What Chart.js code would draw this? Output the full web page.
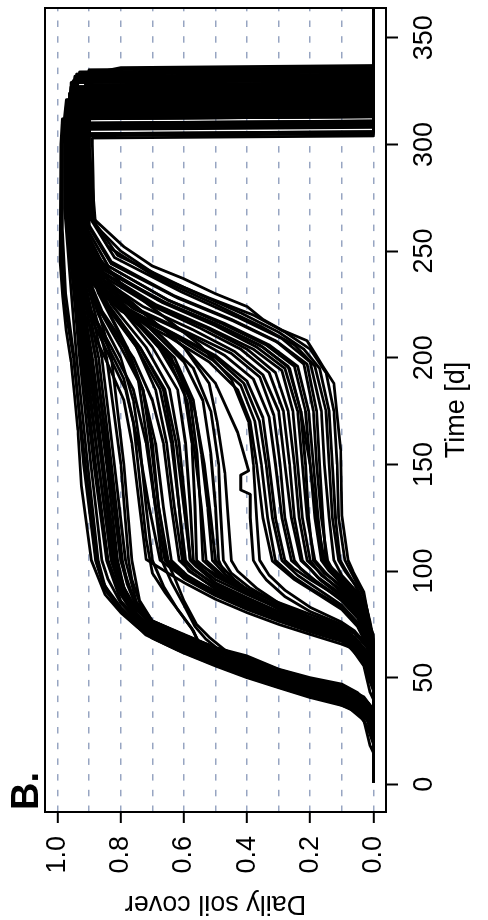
<!DOCTYPE html>
<html>
<head>
<meta charset="utf-8">
<script src="https://cdn.jsdelivr.net/npm/chart.js@4.4.0/dist/chart.umd.min.js"></script>
<style>
  html, body { margin: 0; padding: 0; background: #fff; }
  body { width: 488px; height: 920px; overflow: hidden; position: relative; }
  /* the figure is a landscape plot turned a quarter turn to the left */
  #turn { position: absolute; left: 0; top: 0; width: 920px; height: 488px;
          transform-origin: 0 0; transform: translate(0px, 920px) rotate(-90deg); }
</style>
</head>
<body>
<div id="turn"><canvas id="coverChart" width="920" height="488"></canvas></div>
<script>
// axis ticks
const timeTicks = [0, 50, 100, 150, 200, 250, 300, 350];
const coverTicks = [0, 0.1, 0.2, 0.3, 0.4, 0.5, 0.6, 0.7, 0.8, 0.9, 1.0];
const panelLabel = 'B.';

// each curve: [day, soil cover] points
// early emergence, high cover all season
const earlyHigh = [
  [[1,0],[15,0],[18,0.01],[30,0.03],[35,0.07],[37,0.1],[40.7,0.2],[45.3,0.3],[50,0.4],[55.5,0.5],[61.5,0.6],[68.5,0.7],[74,0.75],[80.5,0.8],[89,0.85],[105,0.893],[140,0.925],[166,0.936],[182,0.946],[198,0.957],[213,0.973],[229,0.984],[245,0.992],[300,0.99],[312,0.985],[313,0],[365,0]],
  [[1,0],[20,0],[26,0.015],[34,0.05],[37.5,0.1],[41.2,0.2],[45.8,0.3],[50.5,0.4],[56,0.5],[62,0.6],[69,0.7],[75,0.75],[82,0.8],[91,0.85],[105,0.88],[150,0.918],[200,0.948],[230,0.975],[260,0.985],[300,0.985],[318,0.972],[319,0],[365,0]],
  [[1,0],[22,0],[30,0.02],[35,0.05],[38,0.1],[41.8,0.2],[46.5,0.3],[51,0.4],[57,0.5],[63,0.6],[70,0.7],[76,0.75],[83,0.8],[93,0.85],[105,0.872],[150,0.905],[200,0.94],[240,0.962],[270,0.978],[300,0.978],[329,0.955],[330,0],[365,0]],
  [[1,0],[24,0],[31,0.02],[36,0.06],[38.5,0.1],[42.2,0.2],[47,0.3],[51.5,0.4],[57,0.5],[63.5,0.6],[70.5,0.7],[77,0.75],[85,0.8],[96,0.84],[105,0.86],[150,0.895],[200,0.93],[240,0.955],[270,0.975],[300,0.975],[312,0.97],[313,0],[365,0]],
  [[1,0],[25,0],[32,0.025],[36.5,0.06],[39,0.1],[42.6,0.2],[47.3,0.3],[52,0.4],[57.5,0.5],[64,0.6],[71,0.7],[78,0.75],[86,0.8],[105,0.845],[150,0.885],[200,0.925],[240,0.95],[270,0.972],[300,0.972],[324,0.962],[325,0],[365,0]],
  [[1,0],[26,0],[33,0.03],[37,0.06],[39.5,0.1],[43,0.2],[47.8,0.3],[52.5,0.4],[58,0.5],[64.5,0.6],[71.5,0.7],[79,0.75],[88,0.79],[105,0.83],[150,0.87],[200,0.91],[240,0.945],[270,0.968],[300,0.97],[321,0.965],[322,0],[365,0]],
  [[1,0],[27,0],[33.5,0.03],[37.5,0.06],[40,0.1],[43.5,0.2],[48,0.3],[53,0.4],[58.5,0.5],[65,0.6],[72,0.7],[80,0.75],[90,0.785],[105,0.815],[150,0.855],[200,0.9],[240,0.94],[270,0.962],[300,0.965],[334,0.93],[335,0],[365,0]],
  [[1,0],[27,0],[34,0.03],[38,0.06],[40.5,0.1],[44,0.2],[48.5,0.3],[53.5,0.4],[59,0.5],[65.5,0.6],[72.5,0.7],[80,0.75],[90,0.79],[105,0.82],[150,0.86],[200,0.905],[240,0.94],[270,0.96],[300,0.962],[315,0.96],[316,0],[365,0]],
  [[1,0],[28,0],[35,0.03],[39,0.07],[41,0.1],[44.5,0.2],[49,0.3],[54,0.4],[59.5,0.5],[66,0.6],[73,0.7],[80,0.76],[89,0.8],[105,0.84],[150,0.88],[200,0.92],[240,0.955],[270,0.975],[300,0.977],[309,0.975],[310,0],[365,0]],
  [[1,0],[29,0],[35.5,0.03],[39.5,0.07],[41.5,0.1],[45,0.2],[49.5,0.3],[54.5,0.4],[60,0.5],[66.5,0.6],[73.5,0.7],[81,0.76],[91,0.8],[105,0.83],[150,0.87],[200,0.915],[240,0.95],[270,0.972],[300,0.974],[327,0.958],[328,0],[365,0]],
  [[1,0],[29,0],[36,0.03],[40,0.07],[42,0.1],[45.5,0.2],[50,0.3],[55,0.4],[60.5,0.5],[67,0.6],[74,0.7],[82,0.75],[92,0.79],[105,0.81],[150,0.845],[200,0.89],[240,0.935],[270,0.96],[300,0.962],[319,0.96],[320,0],[365,0]],
  [[1,0],[30,0],[37,0.03],[40.5,0.07],[42.5,0.1],[46,0.2],[50.5,0.3],[55.5,0.4],[61,0.5],[67.5,0.6],[74.5,0.7],[83,0.75],[94,0.78],[105,0.8],[150,0.835],[200,0.88],[240,0.93],[270,0.958],[300,0.96],[331,0.945],[332,0],[365,0]],
  [[1,0],[30,0],[38,0.03],[41,0.07],[43,0.1],[46.5,0.2],[51,0.3],[56.5,0.4],[62,0.5],[68,0.6],[75,0.7],[83,0.76],[93,0.8],[105,0.825],[150,0.86],[200,0.9],[240,0.945],[270,0.97],[300,0.97],[314,0.968],[315,0],[365,0]],
  [[1,0],[32,0],[39,0.03],[42,0.07],[44,0.1],[47.5,0.2],[52,0.3],[57.5,0.4],[62.5,0.5],[68.5,0.6],[75.5,0.7],[84,0.75],[95,0.78],[105,0.795],[150,0.83],[200,0.87],[240,0.925],[270,0.955],[300,0.958],[323,0.955],[324,0],[365,0]],
  [[1,0],[32,0],[39,0.03],[42.5,0.07],[44.5,0.1],[48,0.2],[52.5,0.3],[58,0.4],[63,0.5],[69,0.6],[76,0.7],[85,0.75],[105,0.785],[150,0.82],[200,0.86],[240,0.92],[270,0.952],[300,0.96],[329,0.957],[333,0.9],[336,0.8],[337,0],[365,0]],
  [[1,0],[33,0],[40,0.03],[43,0.07],[45,0.1],[48.5,0.2],[53,0.3],[58.5,0.4],[63.5,0.5],[69.5,0.6],[76,0.7],[84,0.76],[95,0.8],[105,0.82],[150,0.855],[200,0.895],[240,0.94],[270,0.965],[300,0.967],[304,0.966],[305,0],[365,0]],
  [[1,0],[34,0],[40,0.03],[43.5,0.07],[45.5,0.1],[49,0.2],[53.5,0.3],[59,0.4],[64,0.5],[70,0.6],[76.5,0.7],[85,0.74],[96,0.765],[105,0.775],[150,0.8],[200,0.845],[240,0.915],[270,0.95],[300,0.955],[326,0.95],[327,0],[365,0]],
  [[1,0],[35,0],[41,0.03],[44,0.07],[46,0.1],[49.5,0.2],[53.8,0.3],[59.5,0.4],[64,0.5],[70,0.6],[76.6,0.7],[86,0.74],[105,0.765],[150,0.79],[200,0.83],[240,0.905],[270,0.946],[300,0.952],[317,0.95],[318,0],[365,0]],
  [[1,0],[35,0],[38,0.015],[43,0.05],[47,0.1],[50,0.2],[54,0.3],[60.2,0.4],[64.1,0.5],[70.3,0.6],[76.6,0.7],[87,0.76],[105,0.8],[150,0.84],[200,0.88],[240,0.93],[270,0.96],[300,0.963],[308,0.962],[309,0],[365,0]],
  [[1,0],[19,0],[24,0.012],[32,0.035],[36,0.08],[38.2,0.12],[42,0.22],[46.5,0.32],[51.5,0.42],[57,0.52],[63,0.62],[70,0.72],[77,0.77],[85,0.82],[96,0.86],[105,0.878],[150,0.912],[200,0.95],[225,0.978],[250,0.988],[300,0.987],[321,0.972],[322,0],[365,0]]
];

// early emergence, slower growth after the first rise
const slowEarly = [
  [[1,0],[24,0],[32,0.02],[37,0.07],[39.5,0.1],[43,0.2],[48,0.3],[53,0.4],[59,0.5],[65,0.55],[72,0.57],[80,0.61],[90,0.66],[99,0.7],[115,0.72],[143,0.74],[170,0.76],[190,0.79],[208,0.85],[226,0.91],[250,0.945],[275,0.965],[300,0.968],[310,0.965],[311,0],[365,0]],
  [[1,0],[26,0],[34,0.025],[38,0.07],[40.5,0.1],[44,0.2],[49,0.3],[54,0.4],[60,0.5],[66,0.55],[73,0.575],[82,0.62],[93,0.665],[105,0.7],[130,0.72],[160,0.74],[180,0.76],[200,0.8],[220,0.87],[245,0.93],[275,0.96],[300,0.962],[325,0.955],[326,0],[365,0]],
  [[1,0],[28,0],[35,0.03],[39,0.07],[42,0.1],[45.5,0.2],[50.5,0.3],[56,0.4],[62,0.48],[68,0.53],[74,0.565],[84,0.6],[95,0.64],[105,0.67],[130,0.69],[160,0.715],[190,0.745],[210,0.8],[230,0.87],[255,0.93],[280,0.955],[300,0.958],[333,0.94],[334,0],[365,0]],
  [[1,0],[30,0],[37,0.03],[40.5,0.07],[43,0.1],[47,0.2],[52,0.3],[57.5,0.4],[63,0.47],[69,0.52],[75,0.56],[86,0.6],[97,0.63],[105,0.655],[130,0.68],[160,0.7],[185,0.73],[205,0.78],[225,0.85],[250,0.92],[280,0.952],[300,0.955],[318,0.952],[319,0],[365,0]]
];

// second emergence wave, mid cover through summer
const secondWave = [
  [[1,0],[40,0],[43,0.01],[55.5,0.03],[64,0.07],[65.7,0.1],[70.3,0.2],[75,0.3],[80.5,0.4],[86.8,0.5],[94.6,0.6],[99,0.65],[105.5,0.72],[130,0.74],[160,0.765],[180,0.79],[200,0.85],[220,0.915],[245,0.952],[275,0.975],[300,0.976],[305,0.975],[306,0],[365,0]],
  [[1,0],[44,0],[50,0.015],[58,0.035],[65,0.08],[67,0.1],[71.5,0.2],[76.5,0.3],[82,0.4],[88.5,0.5],[96.5,0.6],[105,0.66],[130,0.69],[160,0.72],[185,0.76],[205,0.83],[225,0.905],[250,0.948],[280,0.97],[300,0.97],[320,0.965],[321,0],[365,0]],
  [[1,0],[46,0],[53,0.02],[60,0.04],[66,0.08],[68,0.1],[72.5,0.2],[77.5,0.3],[83.5,0.4],[90,0.5],[98,0.59],[105,0.64],[130,0.665],[160,0.69],[185,0.73],[205,0.8],[228,0.89],[255,0.94],[285,0.965],[300,0.966],[315,0.965],[316,0],[365,0]],
  [[1,0],[48,0],[55,0.02],[62,0.045],[67,0.085],[69,0.1],[73.5,0.2],[78.5,0.3],[84.5,0.4],[91.5,0.5],[100,0.58],[105,0.615],[130,0.64],[160,0.665],[180,0.7],[200,0.76],[222,0.86],[248,0.932],[280,0.96],[300,0.962],[330,0.95],[331,0],[365,0]],
  [[1,0],[50,0],[57,0.02],[63,0.05],[68,0.085],[70,0.1],[74.5,0.2],[79.5,0.3],[86,0.4],[93,0.5],[101,0.57],[105,0.595],[130,0.615],[160,0.64],[185,0.675],[205,0.75],[225,0.85],[250,0.925],[280,0.958],[300,0.96],[313,0.958],[314,0],[365,0]],
  [[1,0],[51,0],[58,0.02],[64,0.05],[69,0.085],[71,0.1],[75.5,0.2],[81,0.3],[87.5,0.4],[94.5,0.5],[102,0.56],[105,0.58],[130,0.595],[160,0.615],[185,0.645],[205,0.72],[225,0.83],[250,0.915],[280,0.955],[300,0.957],[327,0.95],[328,0],[365,0]],
  [[1,0],[52,0],[59,0.02],[65,0.05],[70,0.085],[72,0.1],[77,0.2],[82.5,0.3],[89,0.4],[96,0.5],[103,0.56],[105,0.57],[130,0.58],[160,0.595],[185,0.62],[205,0.7],[225,0.81],[250,0.905],[280,0.95],[300,0.953],[309,0.952],[310,0],[365,0]],
  [[1,0],[53,0],[60,0.02],[66,0.05],[71,0.085],[73,0.1],[78,0.2],[83.5,0.3],[90,0.4],[97.5,0.5],[105,0.56],[130,0.565],[160,0.575],[185,0.6],[205,0.68],[225,0.79],[250,0.9],[280,0.948],[300,0.95],[322,0.945],[323,0],[365,0]],
  [[1,0],[60,0],[66,0.02],[70,0.05],[72.5,0.085],[74.3,0.1],[79.7,0.2],[85.2,0.3],[91.4,0.4],[98.5,0.5],[105.5,0.58],[130,0.6],[160,0.625],[185,0.66],[205,0.74],[225,0.84],[250,0.92],[280,0.955],[300,0.957],[335,0.9],[336,0],[365,0]],
  [[1,0],[47,0],[54,0.02],[61,0.04],[66.5,0.085],[68.5,0.1],[73,0.2],[78,0.3],[84,0.4],[90.5,0.5],[98,0.6],[105,0.65],[130,0.68],[160,0.705],[185,0.73],[205,0.79],[225,0.875],[250,0.94],[280,0.963],[300,0.965],[332,0.945],[333,0],[365,0]],
  [[1,0],[49,0],[56,0.02],[62.5,0.045],[67.5,0.085],[69.5,0.1],[74,0.2],[79,0.3],[85,0.4],[92,0.5],[100,0.585],[105,0.605],[130,0.63],[160,0.655],[185,0.69],[205,0.75],[225,0.845],[250,0.922],[280,0.956],[300,0.958],[308,0.957],[309,0],[365,0]],
  [[1,0],[45,0],[51,0.015],[59,0.035],[65.5,0.08],[67.5,0.1],[72,0.2],[77,0.3],[83,0.4],[89.5,0.5],[97,0.6],[105,0.675],[130,0.71],[160,0.745],[185,0.785],[205,0.85],[225,0.915],[250,0.95],[280,0.97],[300,0.972],[324,0.962],[325,0],[365,0]],
  [[1,0],[50,0],[57,0.02],[63.5,0.05],[68.5,0.085],[70.5,0.1],[75,0.2],[80,0.3],[86.5,0.4],[93.5,0.5],[101,0.575],[105,0.6],[130,0.615],[160,0.635],[185,0.665],[205,0.74],[225,0.845],[250,0.922],[280,0.956],[300,0.958],[326,0.952],[327,0],[365,0]]
];

// scattered lines around the middle of the cover range
const looseMid = [
  [[1,0],[52,0],[60,0.02],[67,0.06],[71,0.1],[76,0.2],[82,0.3],[89,0.38],[96,0.44],[105,0.5],[125,0.515],[150,0.535],[175,0.565],[195,0.62],[212,0.72],[228,0.84],[250,0.92],[280,0.952],[300,0.955],[319,0.952],[320,0],[365,0]],
  [[1,0],[55,0],[62,0.02],[69,0.06],[73,0.1],[78,0.2],[85,0.3],[92,0.37],[96,0.4],[100,0.43],[105,0.45],[125,0.46],[146,0.47],[170,0.495],[188,0.52],[205,0.6],[220,0.72],[236,0.85],[255,0.92],[285,0.952],[300,0.954],[316,0.952],[317,0],[365,0]],
  [[1,0],[54,0],[61,0.02],[68,0.06],[72.5,0.1],[77,0.2],[83,0.3],[90,0.4],[97,0.47],[105,0.53],[130,0.545],[155,0.565],[180,0.59],[200,0.65],[218,0.76],[235,0.87],[258,0.93],[285,0.958],[300,0.96],[329,0.95],[330,0],[365,0]],
  [[1,0],[56,0],[64,0.02],[71,0.06],[75,0.1],[81,0.2],[88,0.28],[96,0.34],[100,0.36],[105,0.38],[125,0.39],[136,0.39],[138,0.42],[145,0.42],[147,0.395],[165,0.43],[188,0.5],[205,0.6],[220,0.72],[236,0.84],[255,0.915],[285,0.95],[300,0.952],[326,0.945],[327,0],[365,0]],
  [[1,0],[57,0],[65,0.02],[72,0.06],[76,0.1],[83,0.2],[91,0.28],[98,0.33],[105,0.36],[125,0.37],[150,0.38],[170,0.395],[190,0.45],[206,0.55],[220,0.67],[235,0.8],[252,0.9],[285,0.948],[300,0.95],[307,0.948],[308,0],[365,0]],
  [[1,0],[53,0],[60,0.02],[67,0.055],[71.5,0.1],[76.5,0.2],[82.5,0.3],[89.5,0.39],[97,0.46],[105,0.51],[130,0.525],[155,0.545],[180,0.57],[200,0.63],[216,0.74],[232,0.86],[255,0.925],[285,0.955],[300,0.957],[314,0.955],[315,0],[365,0]],
  [[1,0],[55,0],[62,0.02],[69,0.06],[73.5,0.1],[78.5,0.2],[84.5,0.3],[91.5,0.4],[98.5,0.47],[105,0.49],[130,0.5],[155,0.515],[180,0.54],[198,0.6],[214,0.71],[230,0.84],[252,0.92],[285,0.952],[300,0.955],[331,0.94],[332,0],[365,0]],
  [[1,0],[55,0],[62,0.02],[69,0.06],[73,0.1],[78,0.2],[84.5,0.3],[92,0.39],[99,0.45],[105,0.475],[130,0.485],[150,0.49],[175,0.515],[195,0.57],[210,0.67],[226,0.8],[245,0.9],[280,0.948],[300,0.952],[316,0.95],[317,0],[365,0]],
  [[1,0],[54,0],[61,0.02],[68,0.06],[72,0.1],[77,0.2],[83,0.3],[90,0.4],[97,0.48],[105,0.54],[130,0.548],[155,0.558],[180,0.58],[200,0.64],[217,0.75],[233,0.86],[255,0.925],[285,0.955],[300,0.958],[321,0.955],[322,0],[365,0]]
];

// late emergence, low cover until autumn
const lateLow = [
  [[1,0],[50,0],[55.5,0.005],[65,0.02],[74,0.05],[82,0.1],[91.4,0.2],[96,0.25],[104.7,0.32],[125,0.35],[150,0.37],[170,0.39],[185,0.43],[198,0.52],[210,0.65],[222,0.8],[236,0.9],[260,0.94],[300,0.945],[312,0.942],[313,0],[365,0]],
  [[1,0],[53,0],[58,0.006],[67,0.02],[76,0.05],[84,0.1],[93,0.19],[98,0.24],[105,0.29],[125,0.32],[150,0.34],[170,0.36],[188,0.41],[200,0.5],[211,0.63],[222,0.78],[236,0.89],[255,0.93],[300,0.94],[323,0.935],[324,0],[365,0]],
  [[1,0],[55,0],[60,0.006],[69,0.02],[78,0.05],[86,0.1],[95,0.18],[100,0.22],[105,0.26],[125,0.29],[150,0.31],[172,0.33],[190,0.38],[201,0.47],[212,0.6],[223,0.76],[237,0.88],[255,0.925],[300,0.935],[317,0.932],[318,0],[365,0]],
  [[1,0],[57,0],[62,0.007],[71,0.02],[80,0.05],[88,0.1],[96,0.17],[101,0.2],[105,0.23],[125,0.26],[150,0.28],[175,0.3],[192,0.35],[203,0.44],[213,0.57],[224,0.73],[238,0.87],[256,0.92],[300,0.93],[334,0.9],[335,0],[365,0]],
  [[1,0],[58,0],[64,0.007],[73,0.02],[82,0.05],[90,0.1],[98,0.16],[105,0.21],[125,0.235],[150,0.25],[175,0.27],[193,0.31],[204,0.4],[214,0.53],[225,0.7],[240,0.86],[258,0.915],[300,0.925],[320,0.92],[321,0],[365,0]],
  [[1,0],[60,0],[66,0.007],[75,0.02],[84,0.05],[92,0.1],[99,0.15],[105,0.185],[125,0.21],[150,0.225],[175,0.24],[195,0.28],[205,0.37],[215,0.5],[226,0.67],[241,0.85],[258,0.91],[300,0.92],[328,0.91],[329,0],[365,0]],
  [[1,0],[61,0],[68,0.008],[77,0.02],[86,0.05],[94,0.1],[100,0.14],[105,0.165],[125,0.185],[150,0.2],[175,0.215],[196,0.25],[206,0.34],[216,0.48],[227,0.65],[243,0.84],[260,0.905],[300,0.915],[315,0.912],[316,0],[365,0]],
  [[1,0],[63,0],[70,0.008],[79,0.02],[88,0.05],[96,0.1],[101,0.13],[105,0.145],[125,0.165],[150,0.18],[175,0.19],[197,0.22],[208,0.31],[218,0.45],[229,0.63],[245,0.83],[262,0.9],[300,0.91],[325,0.905],[326,0],[365,0]],
  [[1,0],[65,0],[72,0.008],[81,0.02],[90,0.05],[98,0.1],[105,0.125],[125,0.14],[150,0.155],[175,0.165],[198,0.2],[209,0.29],[219,0.43],[231,0.61],[247,0.82],[265,0.895],[300,0.905],[331,0.89],[332,0],[365,0]],
  [[1,0],[67,0],[74,0.01],[84,0.025],[94,0.06],[101,0.09],[105,0.105],[125,0.12],[150,0.13],[175,0.14],[195,0.17],[204,0.22],[212,0.3],[221,0.42],[233,0.6],[248,0.81],[265,0.89],[300,0.9],[319,0.898],[320,0],[365,0]],
  [[1,0],[70,0],[74,0.01],[90,0.03],[100,0.065],[105,0.08],[126,0.1],[157,0.104],[188,0.125],[196,0.16],[202,0.185],[208,0.21],[213,0.29],[218,0.35],[224,0.4],[230,0.5],[237,0.6],[243,0.7],[252,0.79],[265,0.885],[285,0.888],[300,0.89],[303,0.89],[304,0],[365,0]],
  [[1,0],[68,0],[76,0.01],[88,0.03],[98,0.065],[105,0.09],[125,0.11],[150,0.115],[175,0.125],[193,0.15],[204,0.2],[212,0.28],[220,0.38],[228,0.52],[238,0.68],[250,0.8],[262,0.88],[300,0.9],[310,0.898],[311,0],[365,0]],
  [[1,0],[62,0],[69,0.008],[78,0.02],[87,0.05],[95,0.1],[100,0.135],[105,0.155],[125,0.18],[150,0.2],[175,0.23],[196,0.27],[206,0.36],[216,0.5],[227,0.68],[242,0.85],[260,0.912],[300,0.92],[305,0.918],[306,0],[365,0]],
  [[1,0],[56,0],[61,0.006],[70,0.02],[79,0.05],[87,0.1],[96,0.2],[101,0.25],[105,0.28],[125,0.31],[150,0.33],[172,0.35],[189,0.4],[201,0.5],[212,0.64],[224,0.79],[238,0.89],[258,0.93],[300,0.937],[327,0.93],[328,0],[365,0]],
  [[1,0],[66,0],[73,0.008],[83,0.022],[93,0.055],[100,0.09],[105,0.11],[125,0.13],[150,0.14],[175,0.15],[196,0.185],[206,0.25],[215,0.36],[225,0.5],[237,0.68],[252,0.84],[266,0.895],[300,0.902],[318,0.9],[319,0],[365,0]],
  [[1,0],[64,0],[71,0.008],[80,0.02],[89,0.05],[97,0.1],[102,0.135],[105,0.15],[125,0.16],[150,0.17],[175,0.18],[197,0.21],[207,0.3],[217,0.44],[228,0.62],[244,0.83],[261,0.9],[300,0.908],[333,0.895],[334,0],[365,0]],
  [[1,0],[62,0],[69,0.008],[78,0.02],[87,0.05],[95,0.1],[101,0.14],[105,0.16],[125,0.175],[150,0.19],[175,0.205],[196,0.24],[206,0.33],[216,0.47],[227,0.65],[243,0.84],[260,0.905],[300,0.912],[323,0.908],[324,0],[365,0]],
  [[1,0],[60,0],[67,0.007],[76,0.02],[85,0.05],[93,0.1],[99,0.155],[105,0.19],[125,0.205],[150,0.215],[175,0.23],[195,0.265],[205,0.35],[215,0.49],[226,0.66],[241,0.85],[259,0.91],[300,0.918],[317,0.915],[318,0],[365,0]],
  [[1,0],[59,0],[65,0.007],[74,0.02],[83,0.05],[91,0.1],[98,0.165],[105,0.2],[125,0.225],[150,0.24],[175,0.255],[194,0.29],[204,0.38],[214,0.52],[225,0.69],[240,0.855],[258,0.912],[300,0.922],[330,0.91],[331,0],[365,0]],
  [[1,0],[57,0],[63,0.007],[72,0.02],[81,0.05],[89,0.1],[97,0.175],[105,0.225],[125,0.25],[150,0.265],[175,0.285],[193,0.33],[204,0.42],[214,0.55],[225,0.71],[239,0.865],[257,0.918],[300,0.928],[314,0.925],[315,0],[365,0]],
  [[1,0],[56,0],[61,0.006],[70,0.02],[79,0.05],[87,0.1],[96,0.19],[101,0.23],[105,0.25],[125,0.28],[150,0.295],[173,0.315],[191,0.36],[202,0.45],[212,0.59],[223,0.75],[237,0.875],[256,0.922],[300,0.932],[322,0.928],[323,0],[365,0]],
  [[1,0],[51,0],[56,0.005],[66,0.02],[75,0.05],[83,0.1],[92,0.2],[97,0.25],[105,0.31],[125,0.335],[150,0.355],[170,0.375],[187,0.42],[199,0.51],[211,0.64],[222,0.79],[236,0.895],[258,0.935],[300,0.942],[319,0.94],[320,0],[365,0]]
];

const fontFamily = '"Liberation Sans", Arial, Helvetica, sans-serif';
Chart.defaults.font.family = fontFamily;
Chart.defaults.color = '#000';

const allCurves = [...earlyHigh, ...slowEarly, ...secondWave, ...looseMid, ...lateLow];

const datasets = allCurves.map(curve => ({
    data: curve.map(([t, c]) => ({ x: t, y: c })),
    borderColor: '#000',
    borderWidth: 2.8,
    borderJoinStyle: 'round',
    pointRadius: 0,
    tension: 0,
    fill: false,
    clip: 0
}));

// even tenths carry a label and a tick mark, every tenth gets a grid line
const isLabelled = (v) => Math.round(v * 10) % 2 === 0;

// box around the plot and the panel letter
const plotFrame = {
    id: 'plotFrame',
    afterDraw(chart) {
        const { ctx, chartArea: a } = chart;
        ctx.save();
        ctx.strokeStyle = '#000';
        ctx.lineWidth = 2;
        ctx.strokeRect(a.left, a.top, a.right - a.left, a.bottom - a.top);
        ctx.fillStyle = '#000';
        ctx.font = 'bold 38px ' + fontFamily;
        ctx.textAlign = 'left';
        ctx.textBaseline = 'middle';
        ctx.fillText(panelLabel, a.left + 2, 28);
        ctx.restore();
    }
};

new Chart(document.getElementById('coverChart').getContext('2d'), {
    type: 'line',
    data: { datasets: datasets },
    options: {
        responsive: false,
        animation: false,
        events: [],
        layout: { padding: { top: 45, right: 8, bottom: 0, left: 0 } },
        plugins: {
            legend: { display: false },
            tooltip: { enabled: false }
        },
        scales: {
            x: {
                type: 'linear',
                position: 'bottom',
                min: -12.96,
                max: 363.96,
                afterBuildTicks: (axis) => { axis.ticks = timeTicks.map(v => ({ value: v })); },
                afterFit: (axis) => { axis.height = 102; },
                grid: { drawOnChartArea: false, tickLength: 12, tickWidth: 2, tickColor: '#000' },
                border: { display: false },
                ticks: { font: { size: 27 }, padding: 10, maxRotation: 0, autoSkip: false },
                title: { display: true, text: 'Time [d]', font: { size: 27 }, padding: { top: 0, bottom: 15 } }
            },
            y: {
                type: 'linear',
                min: -0.04,
                max: 1.04,
                afterBuildTicks: (axis) => { axis.ticks = coverTicks.map(v => ({ value: v })); },
                afterFit: (axis) => { axis.width = 108; },
                grid: {
                    color: '#97a5c2',
                    lineWidth: 1.6,
                    tickLength: 11,
                    tickWidth: 2,
                    tickColor: (ctx) => (ctx.tick && isLabelled(ctx.tick.value)) ? '#000' : 'rgba(0,0,0,0)'
                },
                border: { display: false, dash: [6.5, 9.2] },
                ticks: {
                    font: { size: 27 },
                    padding: 13,
                    autoSkip: false,
                    callback: (v) => isLabelled(v) ? v.toFixed(1) : ''
                },
                title: { display: true, text: 'Daily soil cover', font: { size: 27 }, padding: { top: 0, bottom: 0 } }
            }
        }
    },
    plugins: [plotFrame]
});
</script>
</body>
</html>
